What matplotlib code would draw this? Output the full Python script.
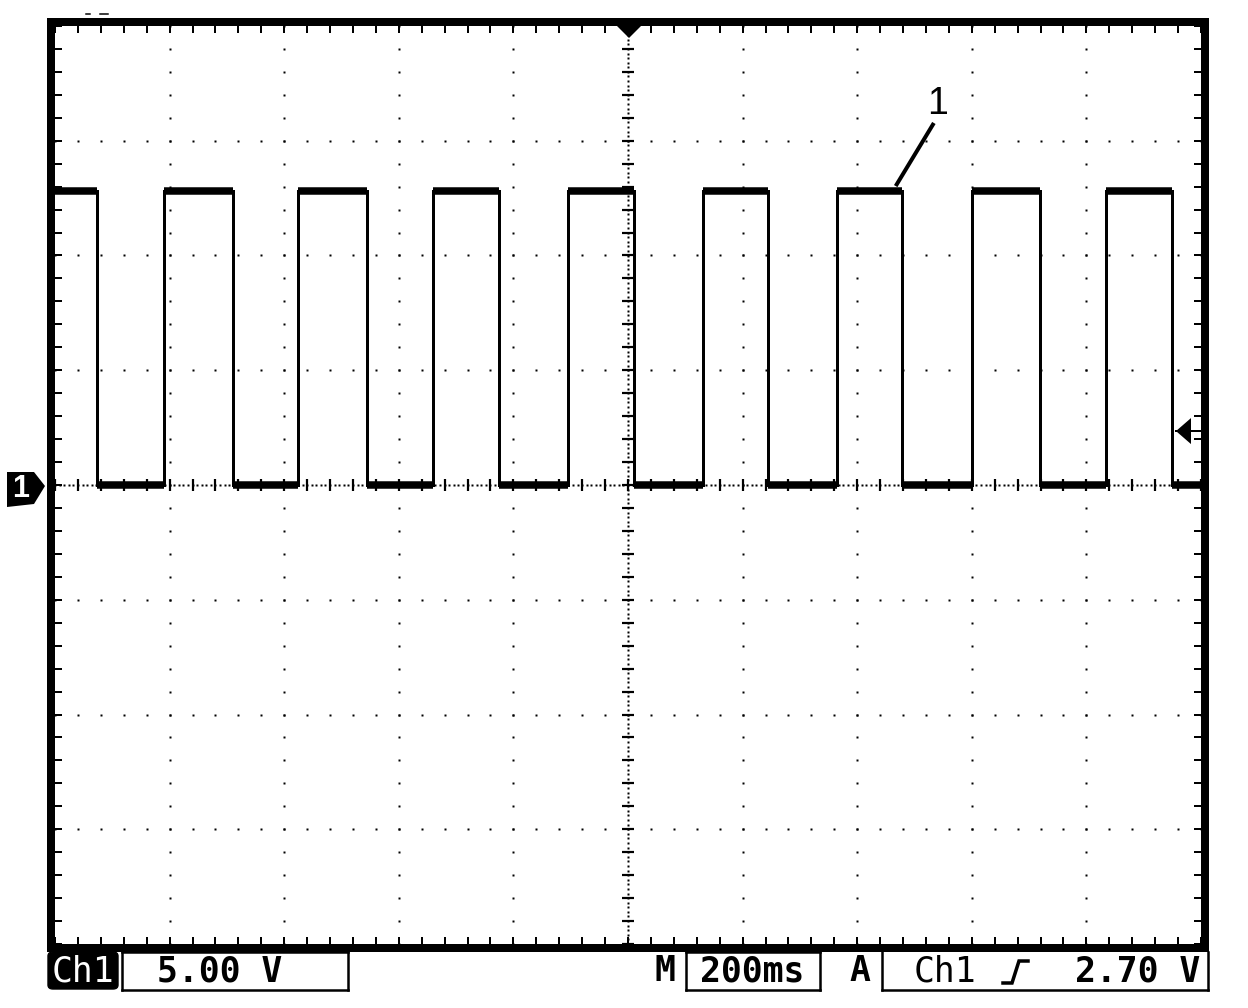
import matplotlib
matplotlib.use("Agg")
import matplotlib.pyplot as plt
from matplotlib.patches import Rectangle, Polygon, FancyBboxPatch
from matplotlib.lines import Line2D
import matplotlib.transforms as mtransforms
import numpy as np

# ---------------- data ----------------
# edge times (ms) of the square wave, 200 ms/div, 10 divisions
edge_times_ms = [73, 190, 311, 424, 545, 660, 775, 895, 1010, 1131,
                 1244, 1365, 1478, 1600, 1719, 1834, 1949]
high_level_v = 12.8
low_level_v = 0.0
start_high = True
time_span_ms = [0, 2000]
volt_span = [-20, 20]          # 5 V/div, 8 divisions
time_per_div_ms = 200
volt_per_div = 5
trigger_marker_v = 2.35
ch_label = "Ch1"
scale_label = "5.00 V"
timebase_label = "200ms"
trigger_label = "2.70 V"
annot_label = "1"
annot_text_xy = (1541, 16.6)
annot_line_x = [1532, 1469]
annot_line_y = [15.7, 13.1]

W, H = 1248, 1008
fig = plt.figure(figsize=(W / 100, H / 100), dpi=100)
fig.patch.set_facecolor("white")


def fx(x):
    return x / W


def fy(y):
    return 1 - y / H


def pt(px):
    return px * 72 / 100


# axes (inner screen area)
L, R, T, B = 55, 1201, 26, 944
ax = fig.add_axes([fx(L), fy(B), (R - L) / W, (B - T) / H])
ax.set_xlim(*time_span_ms)
ax.set_ylim(*volt_span)
for s in ax.spines.values():
    s.set_visible(False)
ax.set_facecolor("white")

# edge ticks (every 1/5 div) on all four sides
ax.set_xticks(np.arange(time_span_ms[0], time_span_ms[1] + 1, time_per_div_ms / 5))
ax.set_yticks(np.arange(volt_span[0], volt_span[1] + 0.01, volt_per_div / 5))
ax.tick_params(direction="in", length=pt(7), width=pt(2), color="black",
               top=True, right=True, bottom=True, left=True,
               labelbottom=False, labelleft=False)

# dotted grid
minor_x = np.arange(time_span_ms[0], time_span_ms[1] + 1, time_per_div_ms / 5)
minor_y = np.arange(volt_span[0], volt_span[1] + 0.01, volt_per_div / 5)
dot_ms = pt(2.6)
for gx in np.arange(time_span_ms[0] + time_per_div_ms, time_span_ms[1], time_per_div_ms):
    if gx == 1000:
        continue
    ax.plot(np.full_like(minor_y, gx), minor_y, ls="none", marker="s",
            ms=dot_ms, mec="none", color="black")
for gy in np.arange(volt_span[0] + volt_per_div, volt_span[1], volt_per_div):
    if gy == 0:
        continue
    ax.plot(minor_x, np.full_like(minor_x, gy), ls="none", marker="s",
            ms=dot_ms, mec="none", color="black")

# center crosshair with fine dots and tick bars
fine_x = np.arange(time_span_ms[0], time_span_ms[1] + 1, time_per_div_ms / 25)
fine_y = np.arange(volt_span[0], volt_span[1] + 0.01, volt_per_div / 25)
ax.plot(np.full_like(fine_y, 1000), fine_y, ls="none", marker="s",
        ms=pt(2.2), mec="none", color="black")
ax.plot(fine_x, np.zeros_like(fine_x), ls="none", marker="s",
        ms=pt(2.2), mec="none", color="black")
ax.plot(np.full_like(minor_y, 1000), minor_y, ls="none", marker="_",
        ms=pt(12), mew=pt(2.2), color="black")
ax.plot(minor_x, np.zeros_like(minor_x), ls="none", marker="|",
        ms=pt(12), mew=pt(2.2), color="black")

# signal
t = [time_span_ms[0]]
lvl = high_level_v if start_high else low_level_v
v = [lvl]
for e in edge_times_ms:
    t.append(e)
    v.append(lvl)
    lvl = low_level_v if lvl == high_level_v else high_level_v
    t.append(e)
    v.append(lvl)
t.append(time_span_ms[1])
v.append(lvl)
ax.plot(t, v, color="black", lw=pt(3), solid_joinstyle="miter", zorder=5)
# thick levels
for i in range(0, len(t) - 1, 2):
    ax.plot([t[i], t[i + 1]], [v[i], v[i + 1]], color="black", lw=pt(7.5),
            solid_capstyle="butt", zorder=5)

# annotation "1"
ax.text(annot_text_xy[0], annot_text_xy[1], annot_label, fontsize=27,
        family="Liberation Sans", ha="center", va="center", color="black")
ax.plot(annot_line_x, annot_line_y, color="black", lw=pt(4), zorder=6)

# border
fig.add_artist(Rectangle((fx(51), fy(947.5)), fx(1204.5) - fx(51), fy(22) - fy(947.5),
                         transform=fig.transFigure, fill=False, ec="black",
                         lw=pt(8), joinstyle="miter", zorder=10))

# top trigger position marker
fig.add_artist(Polygon([(fx(616), fy(25)), (fx(642), fy(25)), (fx(629), fy(38))],
                       closed=True, transform=fig.transFigure, fc="black", ec="none",
                       zorder=11))

# ground marker "1" (x in figure px, y in data)
blend = mtransforms.blended_transform_factory(fig.transFigure, ax.transData)
px_per_v = (B - T) / (volt_span[1] - volt_span[0])
def gy_(ypx_off):
    return low_level_v - ypx_off / px_per_v
fig.add_artist(Polygon([(fx(7), gy_(-13)), (fx(34), gy_(-13)), (fx(45), gy_(1)),
                        (fx(34), gy_(19)), (fx(7), gy_(22))],
                       closed=True, transform=blend, fc="black", ec="none", zorder=11))
fig.text(fx(21), gy_(4), "1", transform=blend, color="white", fontsize=22,
         fontweight="bold", family="Liberation Sans", ha="center", va="center", zorder=12)

# trigger level arrow (right)
def ty_(ypx_off):
    return trigger_marker_v - ypx_off / px_per_v
fig.add_artist(Polygon([(fx(1176), ty_(0)), (fx(1191), ty_(-13)), (fx(1191), ty_(13))],
                       closed=True, transform=blend, fc="black", ec="none", zorder=11))
fig.add_artist(Line2D([fx(1176), fx(1201)], [ty_(0), ty_(0)], transform=blend,
                      color="black", lw=pt(2), zorder=11))

# tiny marks top-left
for x0, x1 in [(86, 90), (100, 108)]:
    fig.add_artist(Line2D([fx(x0), fx(x1)], [fy(14), fy(14)], color="black", lw=pt(1.5)))

# ---------------- bottom status bar ----------------
mono = "DejaVu Sans Mono"
ty = fy(971)
fig.add_artist(FancyBboxPatch((fx(48), fy(989)), fx(118) - fx(48), fy(952) - fy(989),
                              boxstyle="round,pad=0,rounding_size=0.004",
                              transform=fig.transFigure, fc="black", ec="black"))
fig.text(fx(83), ty, ch_label, color="white", fontsize=25, family=mono,
         ha="center", va="center")

def box(x0, x1, y0, y1, sides="lrtb"):
    if "t" in sides:
        fig.add_artist(Line2D([fx(x0), fx(x1)], [fy(y0), fy(y0)], color="black", lw=pt(2.5)))
    if "b" in sides:
        fig.add_artist(Line2D([fx(x0), fx(x1)], [fy(y1), fy(y1)], color="black", lw=pt(2.5)))
    if "l" in sides:
        fig.add_artist(Line2D([fx(x0), fx(x0)], [fy(y0), fy(y1)], color="black", lw=pt(2.5)))
    if "r" in sides:
        fig.add_artist(Line2D([fx(x1), fx(x1)], [fy(y0), fy(y1)], color="black", lw=pt(2.5)))

box(122, 348, 952, 990)
fig.text(fx(220), ty, scale_label, fontsize=25, family=mono, fontweight="bold",
         ha="center", va="center")
fig.text(fx(665), ty, "M", fontsize=25, family=mono, fontweight="bold",
         ha="center", va="center")
box(686, 820, 952, 990)
fig.text(fx(752), ty, timebase_label, fontsize=25, family=mono, fontweight="bold",
         ha="center", va="center")
fig.text(fx(860), ty, "A", fontsize=25, family=mono, fontweight="bold",
         ha="center", va="center")
box(882, 1208, 952, 990, sides="lrb")
fig.text(fx(945), ty, ch_label, fontsize=25, family=mono, ha="center", va="center")
# rising-edge symbol
fig.add_artist(Line2D([fx(1003), fx(1012), fx(1019), fx(1028)],
                      [fy(983), fy(983), fy(961), fy(961)],
                      color="black", lw=pt(3.5), solid_joinstyle="miter"))
fig.text(fx(1200), ty, trigger_label, fontsize=25, family=mono, fontweight="bold",
         ha="right", va="center")

fig.savefig("out.png", dpi=100, facecolor="white")
